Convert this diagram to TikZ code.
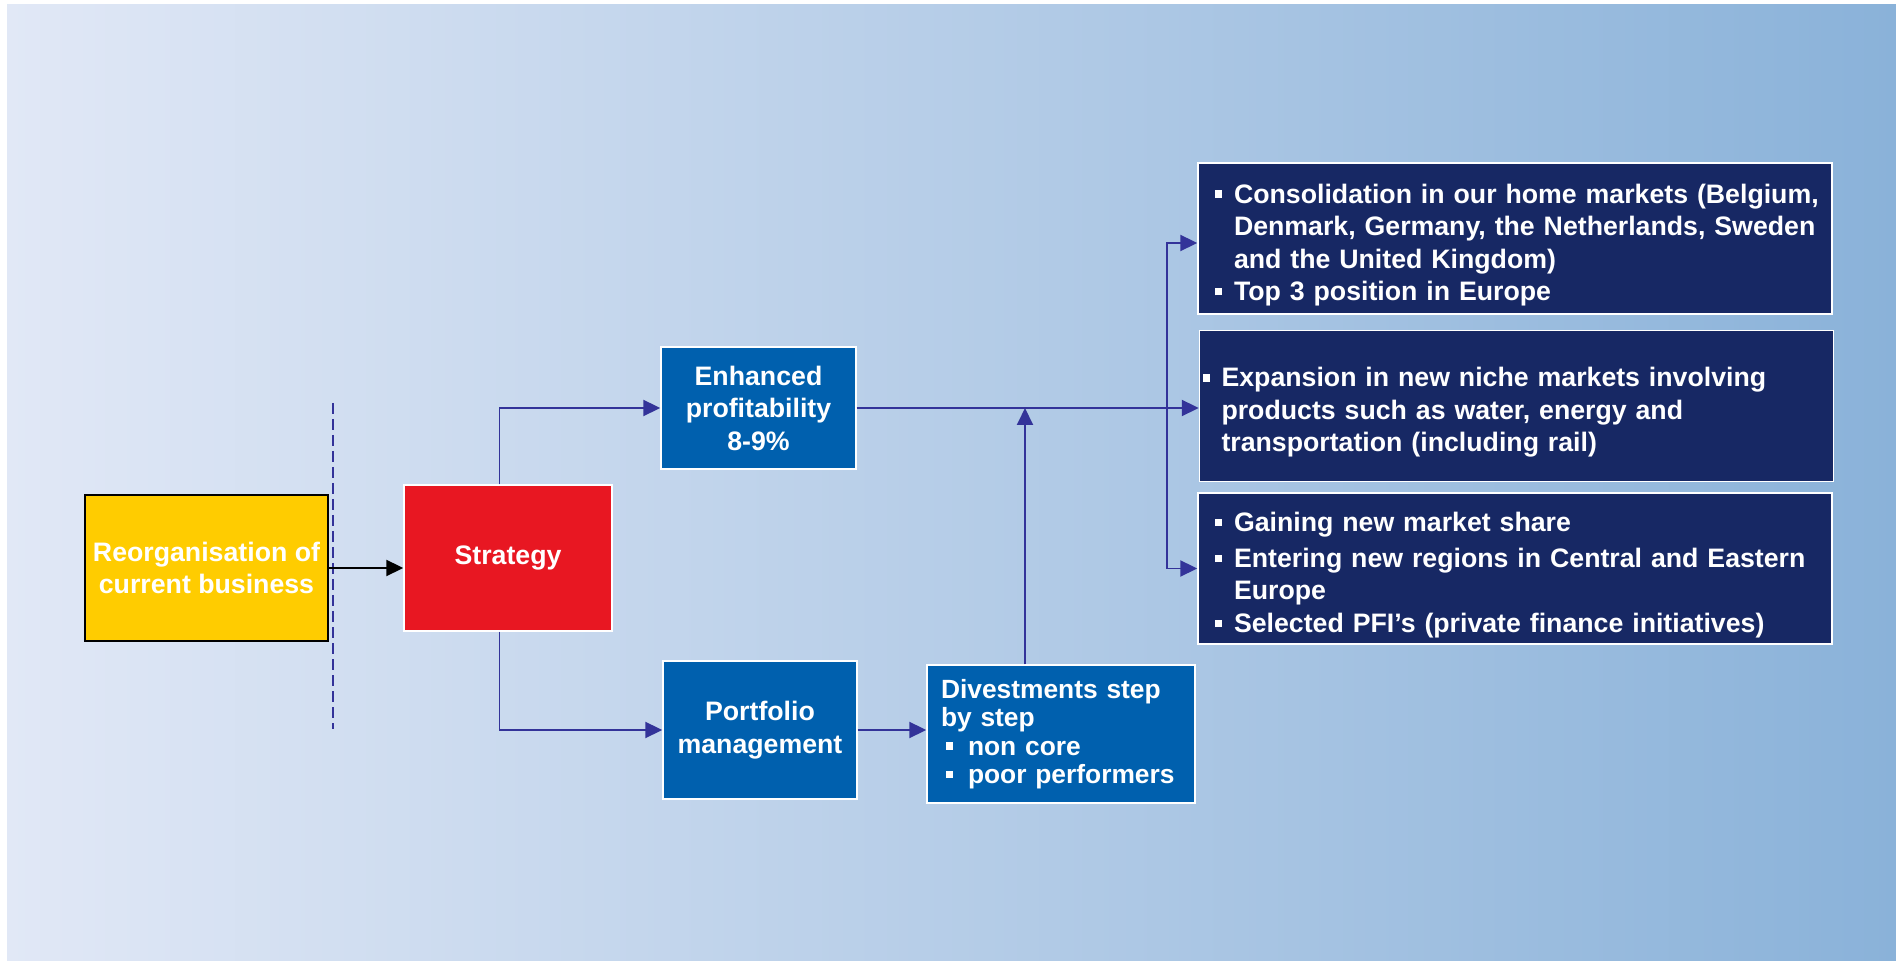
\documentclass[tikz,border=0pt]{standalone}
\usepackage{fontspec}
\setmainfont{Liberation Sans}
\usetikzlibrary{arrows.meta}
\definecolor{bgleft}{RGB}{225,232,246}
\definecolor{bgright}{RGB}{138,178,217}
\definecolor{linkblue}{RGB}{51,51,153}
\definecolor{gold}{RGB}{255,204,0}
\definecolor{strategyred}{RGB}{232,23,34}
\definecolor{midblue}{RGB}{0,96,174}
\definecolor{navy}{RGB}{23,40,100}
\newcommand{\sqb}{\rule[0.2em]{0.28em}{0.28em}}
\newcommand{\bul}[2][0.28cm]{\par\hangindent=\dimexpr#1+0.38cm\relax\hangafter=1\noindent\makebox[\dimexpr#1+0.38cm\relax][l]{\hspace*{#1}\sqb}#2\par}

\begin{document}
\begin{tikzpicture}[>={Triangle[length=0.34cm,width=0.32cm]},
	font=\bfseries\fontsize{15.2}{18.5}\selectfont,
	box/.style={draw=white,line width=0.8pt,fill=midblue,text=white,inner sep=0pt,align=center},
	navybox/.style={box,fill=navy,minimum width=12.68cm,minimum height=3.02cm,text width=12.56cm,inner xsep=0.06cm,align=left},
	conn/.style={draw=linkblue,line width=1.1pt}
	]
	\useasboundingbox (0,0) rectangle (37.92,19.22);
	\fill[white] (0,0) rectangle (37.92,19.22);
	\shade[left color=bgleft,right color=bgright] (0.14,0) rectangle (37.92,19.12);
	% boxes
	\node[box,fill=gold,draw=black,line width=1.1pt,minimum width=4.86cm,minimum height=2.92cm] (reorg) at (4.13,7.86) {Reorganisation of\\current business};
	\node[box,fill=strategyred,minimum width=4.16cm,minimum height=2.92cm] (strategy) at (10.16,8.06) {Strategy};
	\node[box,minimum width=3.9cm,minimum height=2.44cm] (profit) at (15.17,11.06) {Enhanced\\profitability\\8-9\%};
	\node[box,minimum width=3.88cm,minimum height=2.76cm] (portfolio) at (15.2,4.62) {Portfolio\\management};
	\node[box,minimum width=5.36cm,minimum height=2.76cm,text width=4.8cm,inner xsep=0.28cm,align=left,
		font=\bfseries\fontsize{15}{16.2}\selectfont] (divest) at (21.22,4.54)
		{Divestments step\\by step\\\hspace*{0.1cm}\makebox[0.44cm][l]{\sqb}non core\\\hspace*{0.1cm}\makebox[0.44cm][l]{\sqb}poor performers};
	\node[navybox] (homemkt) at (30.3,14.45) {%
		\bul{Consolidation in our home markets (Belgium,\newline Denmark, Germany, the Netherlands, Sweden\newline and the United Kingdom)}
		\bul{Top 3 position in Europe}};
	\node[navybox] (niche) at (30.33,11.1) {%
		\bul[0cm]{Expansion in new niche markets involving\newline products such as water, energy and\newline transportation (including rail)}};
	\node[navybox] (regions) at (30.3,7.85) {%
		\bul{Gaining new market share}
		\vskip2pt
		\bul{Entering new regions in Central and Eastern\newline Europe}
		\bul{Selected PFI's (private finance initiatives)}};
	% divider
	\draw[linkblue,line width=0.7pt,dash pattern=on 0.22cm off 0.1cm] (6.66,11.16) -- (6.66,4.64);
	% connectors
	\draw[line width=1.1pt,->] (reorg.east) -- (reorg.east -| strategy.west);
	\draw[conn,->] ([xshift=-0.17cm]strategy.north) |- (profit.west);
	\draw[conn,->] ([xshift=-0.17cm]strategy.south) |- (portfolio.west);
	\draw[conn,->] (portfolio.east) -- (portfolio.east -| divest.west);
	\draw[conn,->] (profit.east) -- (profit.east -| niche.west);
	\draw[conn,->] ([xshift=-0.72cm]divest.north) -- ([xshift=-0.72cm]divest.north |- profit.east);
	\coordinate (split) at (23.34,11.06);
	\draw[conn,->] (split) |- ([yshift=-0.09cm]homemkt.west);
	\draw[conn,->] (split) |- (regions.west);
\end{tikzpicture}
\end{document}
